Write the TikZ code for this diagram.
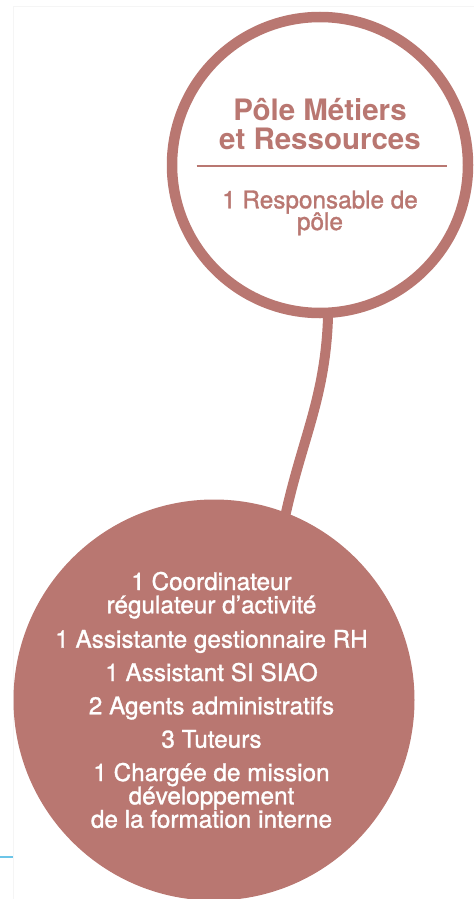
\documentclass[tikz,border=0pt]{standalone}
\usepackage{fontspec}
\setmainfont{TeX Gyre Heros}
\newfontfamily\moyen{TeX Gyre Heros}[FakeBold=1.3]
\usetikzlibrary{positioning}
\definecolor{rose}{HTML}{B97771}
\definecolor{bleu}{HTML}{6CC5E8}

\tikzset{
    titre/.style={font=\fontsize{29.5}{28}\selectfont\bfseries, text=rose, anchor=base, inner sep=0pt},
    resp/.style={font=\moyen\fontsize{24.3}{22}\selectfont, text=rose, anchor=base, inner sep=0pt},
    liste/.style={font=\moyen\fontsize{24.3}{23}\selectfont, text=white, anchor=base, inner sep=0pt},
    connecteur/.style={rose, line width=10pt, shorten <=-5pt, shorten >=-8pt}
}

\begin{document}
\begin{tikzpicture}[x=1pt,y=-1pt]
    \useasboundingbox (0,0) rectangle (474,899);

    % Page edge
    \draw[black!4, line width=1pt] (13,899) -- (13,7) -- (474,7);
    \draw[bleu, line width=1.2pt] (0,857) -- (13,857);

    % Circles
    \node[circle, draw=rose, line width=10.5pt, fill=white, minimum size=296pt, inner sep=0pt] (pole) at (320,165) {};
    \node[circle, fill=rose, minimum size=401pt, inner sep=0pt] (equipe) at (214,700) {};

    % Link between the two
    \draw[connecteur] (pole.-87) .. controls +(-2,80) and +(16,-75) .. (equipe.69);

    % Top circle text
    \node[titre] (nom1) at (320,120.7) {Pôle Métiers};
    \node[titre] (nom2) at (320,149) {et Ressources};
    \draw[rose, line width=1.6pt] (196.7,165.7) -- (446.7,165.7);
    \node[resp] (resp1) at (320,208.3) {1 Responsable de};
    \node[resp] (resp2) at (320,230) {pôle};

    % Team list
    \foreach \y/\txt [count=\i] in {590/1 Coordinateur, 613.3/régulateur d’activité,
        647.7/1 Assistante gestionnaire RH, 681/1 Assistant SI SIAO,
        714.3/2 Agents administratifs, 747.7/3 Tuteurs,
        781/1 Chargée de mission, 804.3/développement, 827.7/de la formation interne} {
        \node[liste] (ligne\i) at (211.5,\y) {\txt};
    }
\end{tikzpicture}
\end{document}
